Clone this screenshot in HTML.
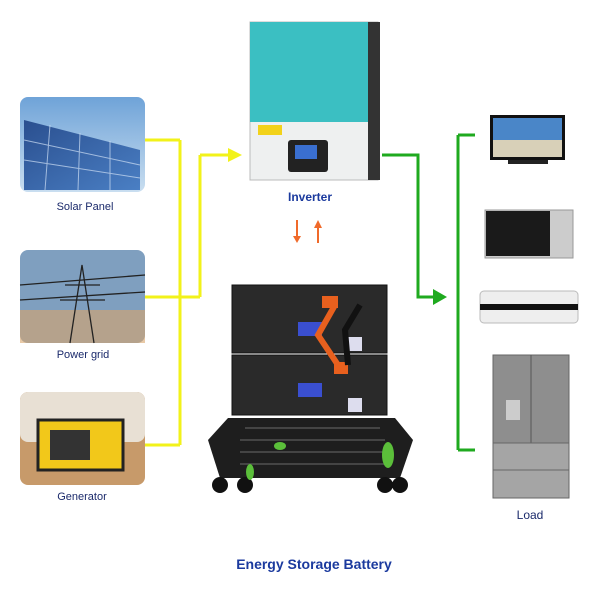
<!DOCTYPE html>
<html><head><meta charset="utf-8"><style>
body{margin:0;background:#fff;width:600px;height:600px;overflow:hidden;font-family:"Liberation Sans",sans-serif}
</style></head><body>
<svg width="600" height="600" viewBox="0 0 600 600" xmlns="http://www.w3.org/2000/svg">
<defs>
<linearGradient id="sky" x1="0" y1="0" x2="0" y2="1"><stop offset="0" stop-color="#6fa3d8"/><stop offset="1" stop-color="#c9def0"/></linearGradient>
<linearGradient id="sol" x1="0" y1="0" x2="1" y2="1"><stop offset="0" stop-color="#2a4f8f"/><stop offset="1" stop-color="#4a7fc4"/></linearGradient>
</defs>
<rect x="20" y="97" width="125" height="95" rx="8" fill="url(#sky)"/>
<polygon points="24,120 140,150 140,190 24,190" fill="url(#sol)"/>
<g stroke="#cfe0f5" stroke-width="1" opacity="0.7">
<line x1="24" y1="140" x2="140" y2="165"/><line x1="24" y1="160" x2="140" y2="178"/>
<line x1="50" y1="125" x2="45" y2="190"/><line x1="80" y1="133" x2="78" y2="190"/><line x1="110" y1="141" x2="110" y2="190"/></g>
<text x="85" y="210" font-size="11" fill="#1b2a6b" text-anchor="middle">Solar Panel</text>
<rect x="20" y="250" width="125" height="93" rx="8" fill="#7f9fbf"/>
<rect x="20" y="310" width="125" height="33" fill="#d8a56a" opacity="0.6"/>
<g stroke="#222" stroke-width="1.3" fill="none">
<polyline points="70,343 82,265 94,343"/><line x1="65" y1="285" x2="100" y2="285"/><line x1="60" y1="300" x2="105" y2="300"/>
<line x1="20" y1="285" x2="145" y2="275"/><line x1="20" y1="300" x2="145" y2="292"/></g>
<text x="83" y="358" font-size="11" fill="#1b2a6b" text-anchor="middle">Power grid</text>
<rect x="20" y="392" width="125" height="93" rx="8" fill="#c79a6a"/>
<rect x="20" y="392" width="125" height="50" rx="8" fill="#e8e0d4"/>
<rect x="38" y="420" width="85" height="50" fill="#f2c81a" stroke="#222" stroke-width="3"/>
<rect x="50" y="430" width="40" height="30" fill="#333"/>
<text x="82" y="500" font-size="11" fill="#1b2a6b" text-anchor="middle">Generator</text>
<g stroke="#f2f21a" stroke-width="3" fill="none">
<line x1="145" y1="140" x2="180" y2="140"/><line x1="145" y1="297" x2="200" y2="297"/><line x1="145" y1="445" x2="180" y2="445"/>
<line x1="180" y1="140" x2="180" y2="445"/><line x1="200" y1="297" x2="200" y2="155"/><line x1="200" y1="155" x2="230" y2="155"/></g>
<polygon points="228,148 242,155 228,162" fill="#f2f21a"/>
<rect x="250" y="22" width="128" height="158" fill="#eef0f0" stroke="#bbb"/>
<rect x="250" y="22" width="118" height="100" fill="#3bbfc2"/>
<rect x="368" y="22" width="12" height="158" fill="#333"/>
<rect x="288" y="140" width="40" height="32" rx="3" fill="#222"/>
<rect x="295" y="145" width="22" height="14" fill="#3a6fd0"/>
<rect x="258" y="125" width="24" height="10" fill="#f2d21a"/>
<text x="310" y="201" font-size="12" fill="#1b3a9e" text-anchor="middle" font-weight="bold">Inverter</text>
<g stroke="#f06a2a" stroke-width="2"><line x1="297" y1="220" x2="297" y2="238"/><line x1="318" y1="226" x2="318" y2="243"/></g>
<polygon points="293,236 301,236 297,243" fill="#f06a2a"/><polygon points="314,228 322,228 318,220" fill="#f06a2a"/>
<!-- Battery -->
<rect x="232" y="285" width="155" height="68" fill="#2a2a2a" stroke="#111"/>
<rect x="232" y="355" width="155" height="60" fill="#2a2a2a" stroke="#111"/>
<rect x="298" y="322" width="24" height="14" fill="#3a4fd0"/><rect x="298" y="383" width="24" height="14" fill="#3a4fd0"/>
<rect x="348" y="337" width="14" height="14" fill="#dde"/><rect x="348" y="398" width="14" height="14" fill="#dde"/>
<rect x="322" y="296" width="16" height="12" fill="#e8601e"/><rect x="334" y="362" width="14" height="12" fill="#e8601e"/>
<path d="M335 305 L318 335 L338 365" stroke="#e8601e" stroke-width="6" fill="none"/>
<path d="M360 305 L345 330 L348 365" stroke="#111" stroke-width="6" fill="none"/>
<polygon points="208,440 228,418 395,418 413,440 400,478 220,478" fill="#1e1e1e"/>
<g stroke="#444" stroke-width="2"><line x1="245" y1="428" x2="380" y2="428"/><line x1="240" y1="440" x2="385" y2="440"/><line x1="240" y1="452" x2="385" y2="452"/><line x1="240" y1="464" x2="385" y2="464"/></g>
<circle cx="220" cy="485" r="8" fill="#111"/><circle cx="245" cy="485" r="8" fill="#111"/>
<circle cx="385" cy="485" r="8" fill="#111"/><circle cx="400" cy="485" r="8" fill="#111"/>
<ellipse cx="388" cy="455" rx="6" ry="13" fill="#5bbf3a"/><ellipse cx="250" cy="472" rx="4" ry="8" fill="#5bbf3a"/><ellipse cx="280" cy="446" rx="6" ry="4" fill="#5bbf3a"/>
<text x="314" y="569" font-size="14" fill="#1b3a9e" text-anchor="middle" font-weight="bold">Energy Storage Battery</text>
<g stroke="#1faa1f" stroke-width="3" fill="none">
<polyline points="382,155 418,155 418,297 435,297"/>
<line x1="458" y1="135" x2="458" y2="450"/>
<line x1="458" y1="135" x2="475" y2="135"/><line x1="458" y1="450" x2="475" y2="450"/></g>
<polygon points="433,289 447,297 433,305" fill="#1faa1f"/>
<rect x="490" y="115" width="75" height="45" fill="#111"/><rect x="493" y="118" width="69" height="39" fill="#4a86c8"/>
<rect x="493" y="140" width="69" height="17" fill="#d8d0b8"/>
<rect x="508" y="160" width="40" height="4" fill="#222"/>
<rect x="485" y="210" width="88" height="48" fill="#ccc" stroke="#999"/><rect x="486" y="211" width="64" height="45" fill="#1a1a1a"/>
<rect x="480" y="291" width="98" height="32" rx="4" fill="#eee" stroke="#bbb"/><rect x="480" y="304" width="98" height="6" fill="#111"/>
<rect x="493" y="355" width="76" height="143" fill="#8e8e8e" stroke="#666"/>
<line x1="531" y1="355" x2="531" y2="443" stroke="#555"/>
<rect x="493" y="443" width="76" height="27" fill="#a5a5a5" stroke="#666"/><rect x="493" y="470" width="76" height="28" fill="#a5a5a5" stroke="#666"/>
<rect x="506" y="400" width="14" height="20" fill="#ccc"/>
<text x="530" y="519" font-size="12" fill="#1b2a6b" text-anchor="middle">Load</text>
</svg>
</body></html>
